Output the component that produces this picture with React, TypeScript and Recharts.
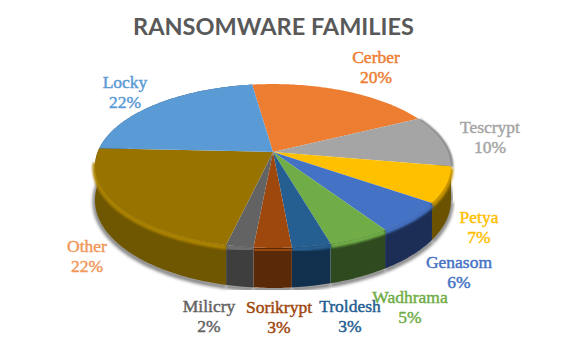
import * as React from 'react';
import { Pie, PieChart } from 'recharts';

const NAMES = ['Cerber', 'Tescrypt', 'Petya', 'Genasom', 'Wadhrama', 'Troldesh', 'Sorikrypt', 'Milicry', 'Other', 'Locky'];
const VALUES = [19.8, 10.2, 7, 6, 4.8, 3, 2.9, 2.1, 22.2, 22];
const TOP_COLORS = ['#ed7d31', '#a5a5a5', '#ffc000', '#4472c4', '#70ad47', '#255e91', '#9e480e', '#636363', '#997300', '#5b9bd5'];
const WALL_COLORS = ['#7a3f18', '#555555', '#6b5200', '#1c2e55', '#2e4a1e', '#11304d', '#5a2908', '#3e3e3e', '#6f5600', '#2e5070'];
const RIM_COLORS = ['#ed7d31', '#4a4a4a', '#c79500', '#4472c4', '#70ad47', '#255e91', '#9e480e', '#707070', '#ab8200', '#5b9bd5'];
const LABEL_COLORS = ['#ed7d31', '#a5a5a5', '#ffc000', '#4472c4', '#70ad47', '#255e91', '#9e480e', '#636363', '#f1975a', '#5b9bd5'];
// label baselines
const LABEL_X = [376, 490, 479, 459, 410, 350, 279, 209, 87, 125];
const LABEL_Y = [63, 133, 223, 268, 303, 312, 313, 312, 252, 88];

const TILT = 0.171; // perspective of the flattened disc
const FLATTEN = 0.447;

// angle from recharts -> point on the tilted disc
function project(cx: number, cy: number, r: number, angle: number) {
    const t = ((90 - angle) * Math.PI) / 180;
    const u = Math.sin(t);
    const v = Math.cos(t);
    const w = 1 + TILT * v;
    return {
        x: cx + (r * Math.sqrt(1 - TILT * TILT) * u) / w,
        y: cy - (r * FLATTEN * v) / w,
        v,
    };
}

function arcPoints(p: any) {
    const pts = [];
    const steps = Math.max(2, Math.ceil(Math.abs(p.endAngle - p.startAngle)));
    for (let i = 0; i <= steps; i++) {
        const a = p.startAngle + ((p.endAngle - p.startAngle) * i) / steps;
        pts.push(project(p.cx, p.cy, p.outerRadius, a));
    }
    return pts;
}

const depth = (v: number) => 33 - 7 * v;
const toPath = (pts: { x: number; y: number }[]) =>
    pts.map((q, i) => `${i ? 'L' : 'M'}${q.x.toFixed(2)},${q.y.toFixed(2)}`).join(' ');

function ShadowSlice(p: any) {
    const pts = arcPoints(p)
        .filter((q) => q.v < 0.1)
        .map((q) => ({ x: q.x, y: q.y + depth(q.v) + 1.5 }));
    if (pts.length < 2) return <g />;
    return <path d={toPath(pts)} fill="none" stroke="#8a8a8a" strokeWidth={5} filter="url(#softShadow)" />;
}

function WallSlice(p: any) {
    const pts = arcPoints(p);
    // walls of the far half never show
    if (!pts.some((q) => q.v < 0.05)) return <g />;
    const bottom = pts.map((q) => ({ x: q.x, y: q.y + depth(q.v) })).reverse();
    const isTescrypt = NAMES[p.index] === 'Tescrypt';
    const rim = pts
        .filter((q) => isTescrypt || q.v < -0.1)
        .map((q) => (isTescrypt ? { x: q.x + 1, y: q.y + 1 } : { x: q.x, y: q.y + 2 }));
    return (
        <g>
            <path d={`${toPath(pts)} ${toPath(bottom).replace('M', 'L')} Z`} fill={WALL_COLORS[p.index]} />
            {rim.length > 1 && (
                <path
                    d={toPath(rim)}
                    fill="none"
                    stroke={RIM_COLORS[p.index]}
                    strokeWidth={isTescrypt ? 2 : 5}
                    filter="url(#softRim)"
                />
            )}
        </g>
    );
}

function TopSlice(p: any) {
    const pts = arcPoints(p);
    return <path d={`M${p.cx},${p.cy} ${toPath(pts).replace('M', 'L')} Z`} fill={TOP_COLORS[p.index]} />;
}

function renderLabel(p: any) {
    const i = p.index;
    return (
        <text
            key={i}
            textAnchor="middle"
            fontFamily="Liberation Serif"
            fontSize={17.5}
            stroke={LABEL_COLORS[i]}
            strokeWidth={0.45}
            fill={LABEL_COLORS[i]}
        >
            <tspan x={LABEL_X[i]} y={LABEL_Y[i]}>{NAMES[i]}</tspan>
            <tspan x={LABEL_X[i]} y={LABEL_Y[i] + 19.5}>{Math.round(VALUES[i])}%</tspan>
        </text>
    );
}

const data = NAMES.map((name, i) => ({ name, value: VALUES[i] }));

const pieProps = {
    data,
    dataKey: 'value',
    nameKey: 'name',
    cx: 273,
    cy: 152,
    outerRadius: 178,
    startAngle: 98,
    endAngle: -262,
    stroke: 'none',
    isAnimationActive: false,
    labelLine: false,
};

export default function App() {
    return (
        <div style={{ position: 'fixed', left: 0, top: 0, width: 570, height: 340, background: '#fff' }}>
            <PieChart width={570} height={340} margin={{ top: 0, right: 0, bottom: 0, left: 0 }}>
                <defs>
                    <filter id="softShadow" x="-20%" y="-20%" width="140%" height="140%">
                        <feGaussianBlur stdDeviation="1.6" />
                    </filter>
                    <filter id="softRim" x="-20%" y="-20%" width="140%" height="140%">
                        <feGaussianBlur stdDeviation="1.3" />
                    </filter>
                </defs>
                <text
                    x={273.5}
                    y={35}
                    textAnchor="middle"
                    fontFamily="Lato"
                    fontWeight={700}
                    fontSize={23.5}
                    fill="#595959"
                >
                    RANSOMWARE FAMILIES
                </text>
                <Pie {...pieProps} shape={ShadowSlice} />
                <Pie {...pieProps} shape={WallSlice} />
                <Pie {...pieProps} shape={TopSlice} label={renderLabel} />
            </PieChart>
        </div>
    );
}
